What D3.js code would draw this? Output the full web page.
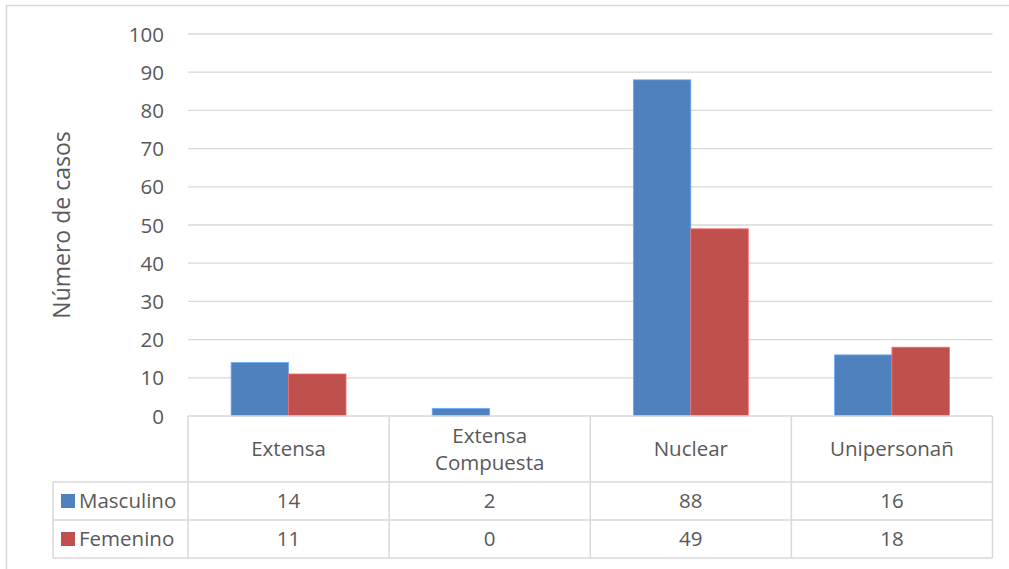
<!DOCTYPE html>
<html>
<head>
<meta charset="utf-8">
<script src="https://cdn.jsdelivr.net/npm/d3@7"></script>
<style>
  html, body { margin: 0; padding: 0; background: #fff; }
  svg { display: block; font-family: "Open Sans", "Noto Sans", sans-serif; }
</style>
</head>
<body>
<svg id="chart" width="1009" height="569"></svg>
<script>
// Tipos de hogar y número de casos por sexo
const categories = ["Extensa", "Extensa\nCompuesta", "Nuclear", "Unipersonañ"];
const seriesNames = ["Masculino", "Femenino"];
const masculino = [14, 2, 88, 16];
const femenino = [11, 0, 49, 18];
const yTicks = [0, 10, 20, 30, 40, 50, 60, 70, 80, 90, 100];
const seriesColors = ["#4F81BD", "#C0504D"];

const seriesValues = [masculino, femenino];
const svg = d3.select("#chart");
const textColor = "#595959";
const lineColor = "#D9D9D9";
const fs = 20.5;

const plotLeft = 188, plotRight = 992.5, plotTop = 34, plotBottom = 416;
const headerBottom = 482, rowH = 38;
const tableLeft = 53;

// outer chart border
svg.append("rect")
  .attr("x", 6.5).attr("y", 5.5).attr("width", 1010).attr("height", 580)
  .attr("fill", "none").attr("stroke", lineColor).attr("stroke-width", 1.5);

const x0 = d3.scaleBand().domain(categories).range([plotLeft, plotRight]).padding(0);
const x1 = d3.scaleBand().domain(seriesNames).range([0, x0.bandwidth()])
  .paddingInner(0).paddingOuter(0.75);
const y = d3.scaleLinear().domain([0, 100]).range([plotBottom, plotTop]);

// horizontal gridlines
svg.append("g").selectAll("line").data(yTicks.filter(d => d > 0)).join("line")
  .attr("x1", plotLeft).attr("x2", plotRight)
  .attr("y1", d => y(d)).attr("y2", d => y(d))
  .attr("stroke", lineColor).attr("stroke-width", 1.3);

// y axis tick labels
const yAxis = d3.axisLeft(y).tickValues(yTicks).tickSize(0).tickPadding(0);
const yg = svg.append("g").attr("transform", "translate(164,0)").call(yAxis);
yg.select(".domain").remove();
yg.selectAll("text").attr("fill", textColor).attr("font-size", fs)
  .attr("font-family", "\"Open Sans\", sans-serif").attr("dy", "0.35em");

// y axis title
svg.append("text")
  .attr("transform", "translate(61,225) rotate(-90)")
  .attr("text-anchor", "middle").attr("dominant-baseline", "central")
  .attr("fill", textColor).attr("font-size", 23)
  .text("Número de casos");

// bars
const groups = svg.append("g").selectAll("g").data(categories).join("g")
  .attr("transform", d => `translate(${x0(d)},0)`);
groups.selectAll("rect")
  .data((d, i) => seriesNames.map((s, j) => ({ s, j, v: seriesValues[j][i] })))
  .join("rect")
  .attr("x", d => x1(d.s))
  .attr("width", x1.bandwidth())
  .attr("y", d => y(d.v))
  .attr("height", d => y(0) - y(d.v))
  .attr("fill", d => seriesColors[d.j])
  .attr("stroke", d => d.v > 0 ? d3.color(seriesColors[d.j]).brighter(0.8) : "none")
  .attr("stroke-width", 0.8);

// data table lines
const tbl = svg.append("g").attr("stroke", lineColor).attr("stroke-width", 1.5);
const rowLines = [plotBottom, headerBottom, headerBottom + rowH, headerBottom + 2 * rowH];
rowLines.forEach((ry, i) => {
  tbl.append("line")
    .attr("x1", i === 0 ? plotLeft : tableLeft).attr("x2", plotRight)
    .attr("y1", ry).attr("y2", ry);
});
const colEdges = categories.map(c => x0(c)).concat([plotRight]);
colEdges.forEach(cx => {
  tbl.append("line").attr("x1", cx).attr("x2", cx)
    .attr("y1", plotBottom).attr("y2", headerBottom + 2 * rowH);
});
tbl.append("line").attr("x1", tableLeft).attr("x2", tableLeft)
  .attr("y1", headerBottom).attr("y2", headerBottom + 2 * rowH);

// category header cells
const headerMid = (plotBottom + headerBottom) / 2;
svg.append("g").selectAll("text").data(categories).join("text")
  .attr("x", d => x0(d) + x0.bandwidth() / 2)
  .attr("text-anchor", "middle").attr("fill", textColor).attr("font-size", fs)
  .each(function (d) {
    const lines = d.split("\n");
    const lh = 27;
    const start = headerMid - (lines.length - 1) * lh / 2;
    d3.select(this).selectAll("tspan").data(lines).join("tspan")
      .attr("x", x0(d) + x0.bandwidth() / 2)
      .attr("y", (l, k) => start + k * lh)
      .attr("dy", "0.35em")
      .text(l => l);
  });

// series rows: legend key, name, values
seriesNames.forEach((s, j) => {
  const cy = headerBottom + rowH * j + rowH / 2;
  svg.append("rect").attr("x", 61).attr("y", cy - 7).attr("width", 14).attr("height", 14)
    .attr("fill", seriesColors[j]);
  svg.append("text").attr("x", 79).attr("y", cy).attr("dy", "0.35em")
    .attr("fill", textColor).attr("font-size", fs).text(s);
  svg.append("g").selectAll("text").data(seriesValues[j]).join("text")
    .attr("x", (v, i) => x0(categories[i]) + x0.bandwidth() / 2)
    .attr("y", cy).attr("dy", "0.35em")
    .attr("text-anchor", "middle").attr("fill", textColor).attr("font-size", fs)
    .text(v => v);
});
</script>
</body>
</html>
